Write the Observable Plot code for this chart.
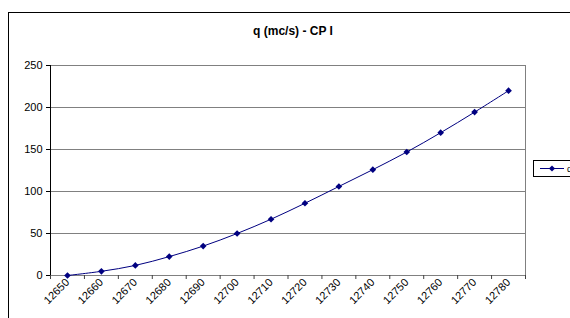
<!DOCTYPE html>
<html>
<head>
<meta charset="utf-8">
<script src="https://cdn.jsdelivr.net/npm/d3@7"></script>
<script src="https://cdn.jsdelivr.net/npm/@observablehq/plot@0.6"></script>
<style>
  html, body { margin: 0; padding: 0; background: #fff; }
  #wrap { position: relative; width: 570px; height: 318px; overflow: hidden; font-family: "Liberation Sans", Arial, sans-serif; background: #fff; }
  #frame { position: absolute; left: 8px; top: 12px; width: 700px; height: 400px; border: 1px solid #000; box-sizing: border-box; }
  #title { position: absolute; left: 8px; width: 570px; top: 24px; text-align: center; font-weight: bold; font-size: 12px; }
  #chart { position: absolute; left: 0; top: 0; }
  #legend { position: absolute; left: 533px; top: 160px; width: 37px; height: 17px; border: 1px solid #000; border-right: none; box-sizing: border-box; background: #fff; font-size: 10px; overflow: hidden; }
</style>
</head>
<body>
<div id="wrap">
  <div id="frame"></div>
  <div id="title">q (mc/s) - CP I</div>
  <div id="chart"></div>
  <div id="legend"></div>
</div>
<script>
const elevations = ["12650","12660","12670","12680","12690","12700","12710","12720","12730","12740","12750","12760","12770","12780"];
const qValues = [0, 5, 12, 22.5, 35, 50, 67, 86, 106, 126, 147, 170, 194.5, 220];
const yTicks = [0, 50, 100, 150, 200, 250];
const seriesName = "q";

const data = elevations.map((e, i) => ({i, e, q: qValues[i]}));
const n = elevations.length;
const navy = "#000080";

const chart = Plot.plot({
  width: 570,
  height: 318,
  marginLeft: 50,
  marginRight: 45,
  marginTop: 65,
  marginBottom: 43,
  style: {fontFamily: "'Liberation Sans', Arial, sans-serif", fontSize: "10px", background: "transparent", color: "#000"},
  x: {type: "linear", domain: [0, n]},
  y: {domain: [0, 250]},
  marks: [
    Plot.ruleY(yTicks.filter(d => d > 0), {stroke: "#808080", strokeWidth: 1, strokeOpacity: 1}),
    Plot.ruleX([n], {stroke: "#808080", strokeWidth: 1}),
    Plot.ruleY([0], {stroke: "#808080", strokeWidth: 1}),
    Plot.ruleX([0], {stroke: "#000", strokeWidth: 1}),
    Plot.axisY({ticks: yTicks, tickSize: 4, tickPadding: 4, fontSize: 11, stroke: "#000", label: null}),
    Plot.axisX({ticks: d3.range(n + 1), tickSize: 4, tickFormat: () => "", stroke: "#404040", label: null}),
    Plot.axisX({ticks: d3.range(n).map(i => i + 0.5), tickSize: 0, tickPadding: 5, tickRotate: -45, tickFormat: d => elevations[Math.floor(d)], fontSize: 11, label: null}),
    Plot.line(data, {x: d => d.i + 0.5, y: "q", stroke: navy, strokeWidth: 1, curve: "catmull-rom"}),
    Plot.dot(data, {x: d => d.i + 0.5, y: "q", symbol: "diamond2", r: 3, fill: navy, stroke: "none"})
  ]
});
document.getElementById("chart").appendChild(chart);

// legend
const lg = d3.select("#legend").append("svg").attr("width", 37).attr("height", 15);
lg.append("line").attr("x1", 6).attr("x2", 30).attr("y1", 7.5).attr("y2", 7.5).attr("stroke", navy).attr("stroke-width", 1);
lg.append("path").attr("d", d3.symbol(d3.symbolDiamond2, 24)()).attr("transform", "translate(18,7.5)").attr("fill", navy);
lg.append("text").attr("x", 33).attr("y", 11).attr("font-size", 9).attr("font-family", "'Liberation Sans', Arial, sans-serif").text(seriesName);
</script>
</body>
</html>
